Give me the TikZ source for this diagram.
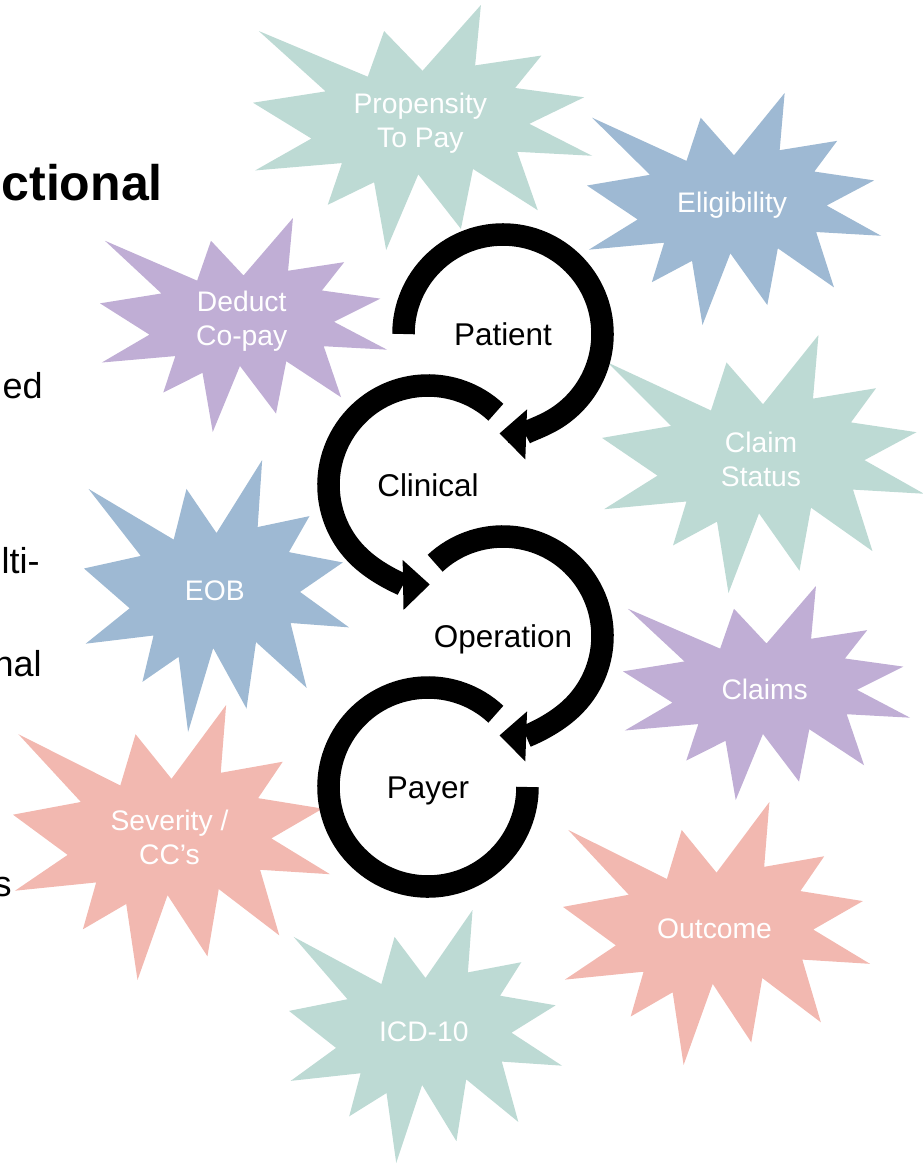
\documentclass[tikz,border=0pt]{standalone}
\usepackage{fontspec}
\setmainfont{Liberation Sans}
\usetikzlibrary{arrows.meta}

\definecolor{burstteal}{RGB}{189,218,212}
\definecolor{burstblue}{RGB}{158,185,211}
\definecolor{burstlilac}{RGB}{192,174,213}
\definecolor{burstpink}{RGB}{242,184,176}

% explosion: #1,#2 top left corner, #3 x #4 size, #5 colour, #6 name, #7 text
\newcommand{\burst}[7]{%
  \begin{scope}[shift={(#1,-#2)}, xscale=#3/100, yscale=-#4/100]
    \fill[#5] (50,26.85) -- (67.23,0) -- (65.53,24.65) -- (85.09,20.63)
      -- (77.32,33.87) -- (97.67,37.67) -- (81.51,48.50) -- (100,61.53)
      -- (77.95,59.92) -- (84.00,83.77) -- (64.91,66.93) -- (61.33,91.38)
      -- (48.76,69.14) -- (39.28,100) -- (35.72,72.35) -- (22.05,81.56)
      -- (26.24,64.52) -- (0.63,67.53) -- (17.23,54.51) -- (0,39.88)
      -- (21.42,35.26) -- (1.71,10.63) -- (33.85,29.26) -- (38.67,10.63) -- cycle;
    \node[tag] (#6) at (49.37,48.2) {#7};
  \end{scope}}

\begin{document}
\begin{tikzpicture}[
    x=0.75pt, y=0.75pt,
    tag/.style={text=white, align=center, font=\fontsize{21.2}{25}\selectfont},
    lbl/.style={font=\fontsize{23.6}{28}\selectfont, text height=17pt, text depth=0.1pt},
    body/.style={font=\fontsize{27}{32}\selectfont, anchor=base east, inner sep=0pt},
    ring/.style={line width=16.9pt, line cap=butt},
    head/.style={-{Triangle[width=37.5pt, length=20pt, line width=0pt]}}
]
\useasboundingbox (0,0) rectangle (922,-1164);

% Text running off the left edge
\node[body, font=\bfseries\fontsize{37.5}{44}\selectfont] (title) at (163,-200) {ctional};
\node[body] (t1) at (43,-398) {ed};
\node[body] (t2) at (40,-573) {lti-};
\node[body] (t3) at (42,-676) {nal};
\node[body] (t4) at (12,-896) {s};

% Explosions
\burst{253}{5}{339}{245}{burstteal}{propensity}{Propensity\\To Pay}
\burst{587}{93}{294}{232}{burstblue}{eligibility}{Eligibility}
\burst{100}{218}{287}{214}{burstlilac}{deduct}{Deduct\\Co-pay}
\burst{602}{335}{322}{258}{burstteal}{status}{Claim\\Status}
\burst{84}{460}{265}{272}{burstblue}{eob}{EOB}
\burst{623}{586}{287}{214}{burstlilac}{claims}{Claims}
\burst{13}{705}{317}{275}{burstpink}{severity}{Severity /\\CC’s}
\burst{563}{802}{307}{263}{burstpink}{outcome}{Outcome}
\burst{289}{910}{273}{253}{burstteal}{icd}{ICD-10}

% Cycle labels
\node[lbl] (patient) at (503,-334) {Patient};
\node[lbl] (clinical) at (428,-485) {Clinical};
\node[lbl] (operation) at (503,-636) {Operation};
\node[lbl] (payer) at (428,-787) {Payer};

% Circular arrows
\draw[ring, head] ([shift={(180:99.5)}]patient.center)
  arc[start angle=180, end angle=-92, radius=99.5];
\draw[ring, head] ([shift={(47:99.5)}]clinical.center)
  arc[start angle=47, end angle=271, radius=99.5];
\draw[ring, head] ([shift={(133:99.5)}]operation.center)
  arc[start angle=133, end angle=-92, radius=99.5];
\draw[ring] ([shift={(47:99.5)}]payer.center)
  arc[start angle=47, end angle=360, radius=99.5];

\end{tikzpicture}
\end{document}
